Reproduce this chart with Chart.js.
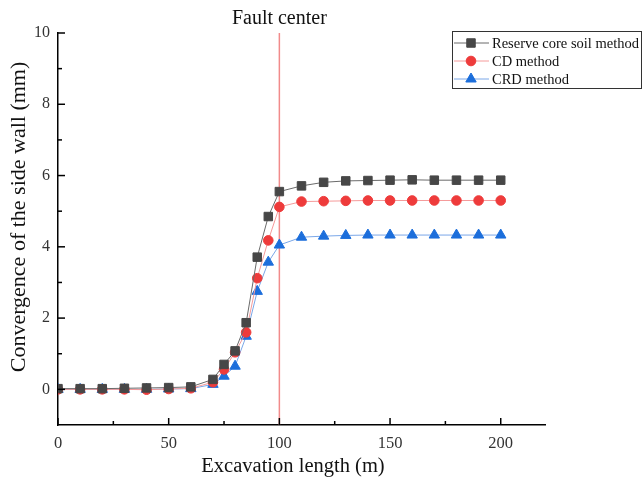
<!DOCTYPE html>
<html>
<head>
<meta charset="utf-8">
<script src="https://cdn.jsdelivr.net/npm/chart.js@4/dist/chart.umd.min.js"></script>
<style>
  body { margin: 0; background: #fff; }
  #wrap { width: 643px; height: 483px; position: relative; }
</style>
</head>
<body>
<div id="wrap"><canvas id="convChart"></canvas></div>
<script>
// excavation positions (m)
const distances = [0, 10, 20, 30, 40, 50, 60, 70, 75, 80, 85, 90, 95, 100, 110, 120, 130, 140, 150, 160, 170, 180, 190, 200];

// side wall convergence (mm) per construction method
const reserveCore = [0.02, 0.02, 0.02, 0.03, 0.04, 0.05, 0.07, 0.28, 0.70, 1.08, 1.87, 3.71, 4.85, 5.55, 5.71, 5.81, 5.85, 5.86, 5.87, 5.88, 5.87, 5.87, 5.87, 5.87];
const cdMethod = [0, 0, 0, 0, -0.01, 0.01, 0.03, 0.20, 0.56, 1.04, 1.60, 3.12, 4.18, 5.12, 5.27, 5.28, 5.29, 5.30, 5.30, 5.30, 5.30, 5.30, 5.30, 5.30];
const crdMethod = [0, 0, 0, 0, 0, 0.01, 0.02, 0.14, 0.37, 0.65, 1.49, 2.75, 3.57, 4.05, 4.27, 4.30, 4.32, 4.33, 4.33, 4.33, 4.33, 4.33, 4.33, 4.33];

const seriesNames = ['Reserve core soil method', 'CD method', 'CRD method'];
const xTicks = [0, 50, 100, 150, 200];
const xMinorTicks = [25, 75, 125, 175];
const yTicks = [0, 2, 4, 6, 8, 10];
const yMinorTicks = [1, 3, 5, 7, 9];
const faultAt = 100;

const serif = '"Liberation Serif", "Times New Roman", serif';

function toPoints(values) {
  return distances.map((d, i) => ({ x: d, y: values[i] }));
}

// vertical line marking the fault and its caption
const faultLine = {
  id: 'faultLine',
  beforeDatasetsDraw(chart) {
    const { ctx, chartArea, scales } = chart;
    const x = scales.x.getPixelForValue(faultAt);
    ctx.save();
    ctx.strokeStyle = '#f18b8b';
    ctx.lineWidth = 1.5;
    ctx.beginPath();
    ctx.moveTo(x, chartArea.top);
    ctx.lineTo(x, chartArea.bottom);
    ctx.stroke();
    ctx.fillStyle = '#111';
    ctx.font = '20px ' + serif;
    ctx.textAlign = 'center';
    ctx.textBaseline = 'middle';
    ctx.fillText('Fault center', x, 19);
    ctx.restore();
  }
};

// axis titles, placed by hand
const axisTitles = {
  id: 'axisTitles',
  afterDraw(chart) {
    const { ctx } = chart;
    ctx.save();
    ctx.fillStyle = '#111';
    ctx.textAlign = 'center';
    ctx.textBaseline = 'middle';
    ctx.font = '20.5px ' + serif;
    ctx.fillText('Excavation length (m)', 293, 467);
    ctx.translate(19, 217);
    ctx.rotate(-Math.PI / 2);
    ctx.font = '22px ' + serif;
    ctx.fillText('Convergence of the side wall (mm)', 0, 0);
    ctx.restore();
  }
};

// inward tick marks on both axes
const innerTicks = {
  id: 'innerTicks',
  afterDraw(chart) {
    const { ctx, chartArea, scales } = chart;
    ctx.save();
    ctx.strokeStyle = '#000';
    ctx.lineWidth = 1.5;
    const xTick = (v, len) => {
      const px = scales.x.getPixelForValue(v);
      ctx.beginPath();
      ctx.moveTo(px, chartArea.bottom);
      ctx.lineTo(px, chartArea.bottom - len);
      ctx.stroke();
    };
    const yTick = (v, len) => {
      const py = scales.y.getPixelForValue(v);
      ctx.beginPath();
      ctx.moveTo(chartArea.left, py);
      ctx.lineTo(chartArea.left + len, py);
      ctx.stroke();
    };
    xTicks.forEach(v => xTick(v, 7));
    xMinorTicks.forEach(v => xTick(v, 4));
    yTicks.forEach(v => yTick(v, 7));
    yMinorTicks.forEach(v => yTick(v, 4));
    ctx.restore();
  }
};

// boxed legend in the upper right corner
const boxLegend = {
  id: 'boxLegend',
  afterDraw(chart) {
    const { ctx } = chart;
    const left = 452, top = 31, w = 190, h = 58;
    ctx.save();
    ctx.fillStyle = '#fff';
    ctx.fillRect(left, top, w, h);
    ctx.strokeStyle = '#333';
    ctx.lineWidth = 1;
    ctx.strokeRect(left + 0.5, top + 0.5, w - 1, h - 1);
    ctx.font = '14.5px ' + serif;
    ctx.textBaseline = 'middle';
    chart.data.datasets.forEach((ds, i) => {
      const y = top + 12 + i * 18;
      ctx.strokeStyle = ds.borderColor;
      ctx.lineWidth = 1;
      ctx.beginPath();
      ctx.moveTo(left + 2, y);
      ctx.lineTo(left + 37, y);
      ctx.stroke();
      ctx.fillStyle = ds.pointBackgroundColor;
      ctx.strokeStyle = ds.pointBackgroundColor;
      Chart.helpers.drawPoint(ctx, {
        pointStyle: ds.pointStyle,
        radius: ds.pointRadius,
        rotation: 0,
        borderWidth: 1
      }, left + 19, y);
      ctx.fillStyle = '#111';
      ctx.fillText(ds.label, left + 40, y + 1);
    });
    ctx.restore();
  }
};

const markerColors = ['#474747', '#ee3b3b', '#1c6edb'];
const lineColors = ['#6a6a6a', '#f59a9a', '#7aa7e8'];
const markerStyles = ['rect', 'circle', 'triangle'];
const markerSizes = [6, 4.8, 6];

const datasets = [reserveCore, cdMethod, crdMethod].map((values, i) => ({
  label: seriesNames[i],
  data: toPoints(values),
  borderColor: lineColors[i],
  borderWidth: 1,
  pointStyle: markerStyles[i],
  pointRadius: markerSizes[i],
  pointHoverRadius: markerSizes[i],
  pointBackgroundColor: markerColors[i],
  pointBorderColor: markerColors[i],
  pointBorderWidth: 1,
  tension: 0,
  clip: { left: 0, top: false, right: false, bottom: false }
}));

new Chart(document.getElementById('convChart'), {
  type: 'line',
  data: { datasets },
  options: {
    responsive: true,
    maintainAspectRatio: false,
    animation: false,
    layout: { padding: { top: 33, right: 98, left: 0, bottom: 0 } },
    plugins: {
      legend: { display: false },
      tooltip: { enabled: false }
    },
    scales: {
      x: {
        type: 'linear',
        min: 0,
        max: 220,
        afterBuildTicks: scale => { scale.ticks = xTicks.map(v => ({ value: v })); },
        afterFit: scale => { scale.height = 58; },
        grid: { display: false, drawTicks: false },
        border: { display: true, color: '#000', width: 1.5 },
        ticks: {
          padding: 9,
          color: '#333',
          font: { family: serif, size: 16.5 },
          maxRotation: 0
        }
      },
      y: {
        min: -1,
        max: 10,
        afterBuildTicks: scale => { scale.ticks = yTicks.map(v => ({ value: v })); },
        afterFit: scale => { scale.width = 58; },
        grid: { display: false, drawTicks: false },
        border: { display: true, color: '#000', width: 1.5 },
        ticks: {
          padding: 8,
          color: '#333',
          font: { family: serif, size: 16 }
        }
      }
    }
  },
  plugins: [faultLine, innerTicks, axisTitles, boxLegend]
});
</script>
</body>
</html>
